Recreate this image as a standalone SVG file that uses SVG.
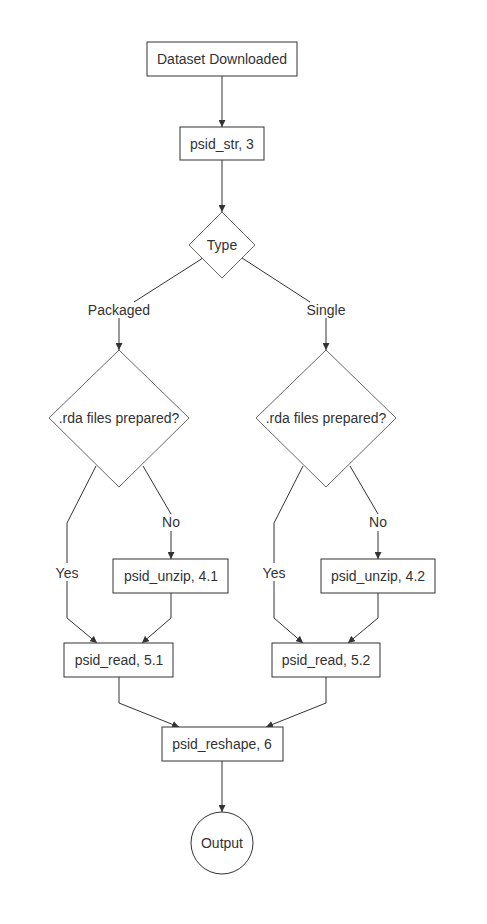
<svg xmlns="http://www.w3.org/2000/svg" width="487" height="924" viewBox="0 0 487 924">
<defs>
<marker id="arr" viewBox="0 0 10 10" refX="10" refY="5" markerWidth="7" markerHeight="7" markerUnits="userSpaceOnUse" orient="auto">
<path d="M0,0 L10,5 L0,10 z" fill="#333"/>
</marker>
<style>
.box{fill:#fff;stroke:#333;stroke-width:1}
.dia{fill:#fff;stroke:#666;stroke-width:1}
.t{font-family:"Liberation Sans",Arial,sans-serif;font-size:14px;fill:#333;text-anchor:middle}
.e{fill:none;stroke:#333;stroke-width:1}
.lb{fill:#fff}
</style>
</defs>
<rect width="487" height="924" fill="#fff"/>
<g id="connectors">
<path class="e" d="M222,76 L222,127" marker-end="url(#arr)"/>
<path class="e" d="M222,160 L222,212" marker-end="url(#arr)"/>
<path class="e" d="M203,258 L134,302"/>
<path class="e" d="M119,318 L119,350" marker-end="url(#arr)"/>
<path class="e" d="M242,258 L310,302"/>
<path class="e" d="M326,318 L326,350" marker-end="url(#arr)"/>
<path class="e" d="M96,466 L67,523 L67,618 L97,643" marker-end="url(#arr)"/>
<path class="e" d="M143,466 L171,514 L171,559" marker-end="url(#arr)"/>
<path class="e" d="M171,593 L171,618 L142,643" marker-end="url(#arr)"/>
<path class="e" d="M303,466 L274,523 L274,618 L303,643" marker-end="url(#arr)"/>
<path class="e" d="M350,466 L378,514 L378,559" marker-end="url(#arr)"/>
<path class="e" d="M378,593 L378,618 L348,643" marker-end="url(#arr)"/>
<path class="e" d="M119,677 L119,703 L179,727" marker-end="url(#arr)"/>
<path class="e" d="M326,677 L326,703 L266,727" marker-end="url(#arr)"/>
<path class="e" d="M222,761 L222,812" marker-end="url(#arr)"/>
<text class="t" x="119" y="315">Packaged</text>
<text class="t" x="326" y="315">Single</text>
<rect class="lb" x="54" y="563" width="26" height="18"/>
<text class="t" x="67" y="578">Yes</text>
<rect class="lb" x="160" y="514" width="22" height="17"/>
<text class="t" x="171" y="527">No</text>
<rect class="lb" x="261" y="563" width="26" height="18"/>
<text class="t" x="274" y="578">Yes</text>
<rect class="lb" x="367" y="514" width="22" height="17"/>
<text class="t" x="378" y="527">No</text>
</g>
<g id="dataset">
<rect class="box" x="147" y="42" width="150" height="34"/>
<text class="t" x="222" y="64">Dataset Downloaded</text>
</g>
<g id="psid_str">
<rect class="box" x="180" y="127" width="84" height="33"/>
<text class="t" x="222" y="148.5">psid_str, 3</text>
</g>
<g id="type">
<polygon class="dia" points="222,212 255,245 222,278 189,245"/>
<text class="t" x="222" y="250">Type</text>
</g>
<g id="rda_left">
<polygon class="dia" points="119,350 189,418 119,487 49,418"/>
<text class="t" x="119" y="423">.rda files prepared?</text>
</g>
<g id="rda_right">
<polygon class="dia" points="326,350 396,418 326,487 256,418"/>
<text class="t" x="326" y="423">.rda files prepared?</text>
</g>
<g id="unzip41">
<rect class="box" x="113" y="559" width="115" height="34"/>
<text class="t" x="171" y="581">psid_unzip, 4.1</text>
</g>
<g id="unzip42">
<rect class="box" x="321" y="559" width="114" height="34"/>
<text class="t" x="378" y="581">psid_unzip, 4.2</text>
</g>
<g id="read51">
<rect class="box" x="64" y="643" width="109" height="34"/>
<text class="t" x="119" y="665">psid_read, 5.1</text>
</g>
<g id="read52">
<rect class="box" x="272" y="643" width="108" height="34"/>
<text class="t" x="326" y="665">psid_read, 5.2</text>
</g>
<g id="reshape">
<rect class="box" x="162" y="727" width="121" height="34"/>
<text class="t" x="222" y="749">psid_reshape, 6</text>
</g>
<g id="output">
<circle class="box" cx="222" cy="843" r="31"/>
<text class="t" x="222" y="848">Output</text>
</g>
</svg>
